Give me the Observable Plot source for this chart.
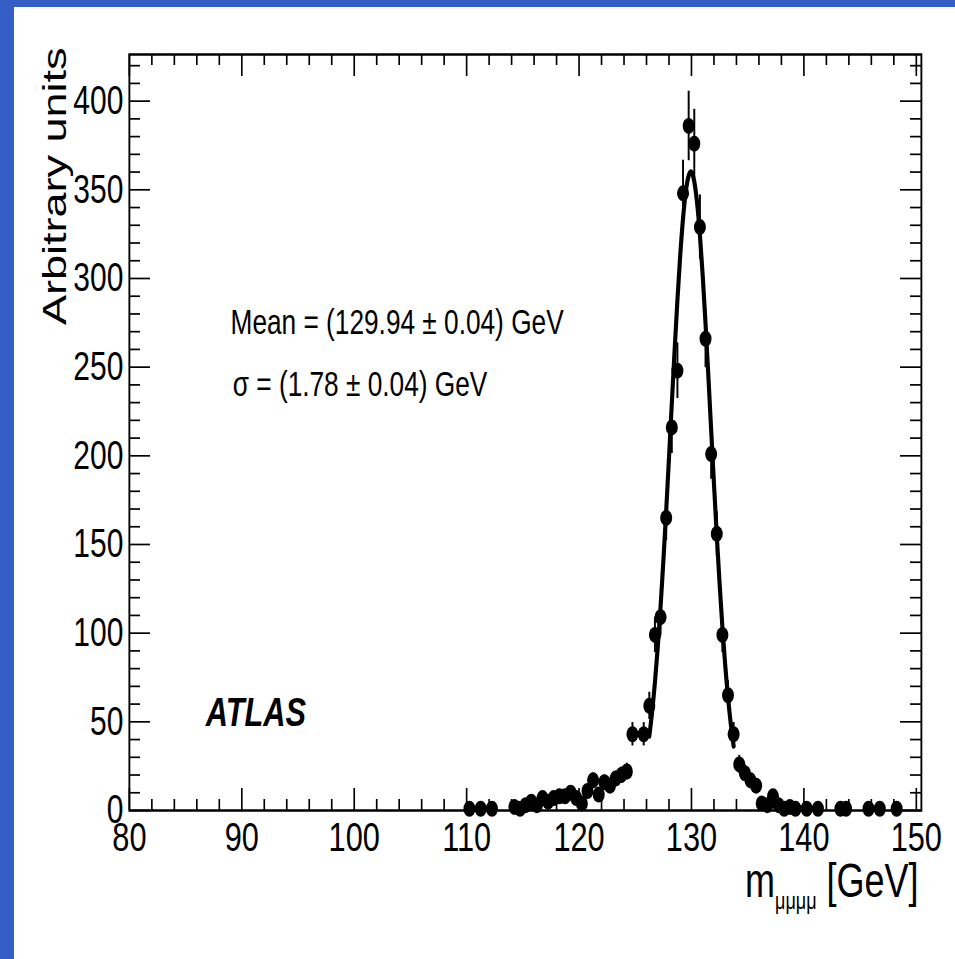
<!DOCTYPE html>
<html><head><meta charset="utf-8">
<script src="https://cdn.jsdelivr.net/npm/d3@7"></script>
<script src="https://cdn.jsdelivr.net/npm/@observablehq/plot@0.6"></script>
<style>
html,body{margin:0;padding:0;background:#fff;width:955px;height:959px;overflow:hidden;}
#bandTop{position:absolute;left:0;top:0;width:955px;height:7px;background:#355fc6;}
#bandLeft{position:absolute;left:0;top:0;width:14px;height:959px;background:#355fc6;}
#chart{position:absolute;left:0;top:0;width:1274px;height:959px;transform:scaleX(0.75);transform-origin:0 0;}
#chart svg{max-width:none !important;}
</style></head><body>
<div id="bandTop"></div><div id="bandLeft"></div><div id="chart"></div>
<script>
// ---- data ----
const massBins = [110.25,111.25,112.25,114.25,114.75,115.25,115.75,116.25,116.75,117.25,117.75,118.25,118.75,119.25,119.75,120.25,120.75,121.25,121.75,122.25,122.75,123.25,123.75,124.25,124.75,125.75,126.25,126.75,127.25,127.75,128.25,128.75,129.25,129.75,130.25,130.75,131.25,131.75,132.25,132.75,133.25,133.75,134.25,134.75,135.25,135.75,136.25,136.75,137.25,137.75,138.25,138.75,139.25,140.25,141.25,143.25,143.75,145.75,146.75,148.25];
const counts   = [1,1,1,2,1,3,5,3,7,5,7,8,8,10,7,4,11,17,9,16,14,18,20,22,43,43,59,99,109,165,216,248,348,386,376,329,266,201,156,99,65,43,26,21,17,14,4,3,8,3,1,2,1,1,1,1,1,1,1,1];
const errors   = [1,1,1,1.4,1,1.7,2.2,1.7,2.6,2.2,2.6,2.8,2.8,3.2,2.6,2,3.3,4.1,3,4,3.7,4.2,4.5,4.7,6.6,6.6,7.7,10,10.4,12.8,14.7,15.7,18.7,19.6,19.4,18.1,16.3,14.2,12.5,10,8.1,6.6,5.1,4.6,4.1,3.7,2,1.7,2.8,1.7,1,1.4,1,1,1,1,1,1,1,1];
const fitMass  = [126.25,126.5,126.75,127,127.25,127.5,127.75,128,128.25,128.5,128.75,129,129.25,129.5,129.75,130,130.25,130.5,130.75,131,131.25,131.5,131.75,132,132.25,132.5,132.75,133,133.25,133.5,133.75];
const fitValue = [42,55.6,72.3,92,114.9,140.7,168.9,198.8,229.4,259.5,287.9,313.1,333.9,349.2,357.9,359.8,354.6,342.6,324.6,301.5,274.6,245.2,214.7,184.3,155.1,128,103.5,82.1,63.9,48.7,36.4];
const xMajor = [80,90,100,110,120,130,140,150];
const xMinor = [82,84,86,88,92,94,96,98,102,104,106,108,112,114,116,118,122,124,126,128,132,134,136,138,142,144,146,148];
const yMajor = [0,50,100,150,200,250,300,350,400];
const yMinor = [10,20,30,40,60,70,80,90,110,120,130,140,160,170,180,190,210,220,230,240,260,270,280,290,310,320,330,340,360,370,380,390,410,420];
const xTitle = "m_{μμμμ} [GeV]";
const yTitle = "Arbitrary units";
const meanText = "Mean = (129.94 ± 0.04) GeV";
const sigmaText = "σ = (1.78 ± 0.04) GeV";
const atlasText = "ATLAS";

const points = massBins.map((m, i) => ({m, n: counts[i], e: errors[i]}));
const fit = fitMass.map((m, i) => ({m, v: fitValue[i]}));

const W = 1274, H = 959, ML = 172, MR = 46, MT = 54, MB = 149;
const IW = W - ML - MR, IH = H - MT - MB;
const SX = 0.75;
const majV = 22, minV = 11;           // vertical tick lengths (px)
const majH = 21 / SX, minH = 11 / SX; // horizontal tick lengths (pre-scale px)

const svg = Plot.plot({
  width: W, height: H,
  marginLeft: ML, marginRight: MR, marginTop: MT, marginBottom: MB,
  x: {domain: [80, 150.45]},
  y: {domain: [0, 426.3]},
  style: {fontFamily: "'Liberation Sans', Arial, Helvetica, sans-serif", background: "transparent", color: "black", overflow: "visible", maxWidth: "none"},
  marks: [
    Plot.tickX(xMajor, {x: d => d, insetTop: IH - majV, stroke: "black", strokeWidth: 2.2}),
    Plot.tickX(xMinor, {x: d => d, insetTop: IH - minV, stroke: "black", strokeWidth: 2.2}),
    Plot.tickX(xMajor, {x: d => d, insetBottom: IH - majV, stroke: "black", strokeWidth: 2.2}),
    Plot.tickX(xMinor, {x: d => d, insetBottom: IH - minV, stroke: "black", strokeWidth: 2.2}),
    Plot.tickY(yMajor, {y: d => d, insetRight: IW - majH, stroke: "black", strokeWidth: 1.7}),
    Plot.tickY(yMinor, {y: d => d, insetRight: IW - minH, stroke: "black", strokeWidth: 1.7}),
    Plot.tickY(yMajor, {y: d => d, insetLeft: IW - majH, stroke: "black", strokeWidth: 1.7}),
    Plot.tickY(yMinor, {y: d => d, insetLeft: IW - minH, stroke: "black", strokeWidth: 1.7}),
    Plot.frame({stroke: "black", strokeWidth: 2.5}),
    Plot.axisX({ticks: xMajor, tickSize: 0, tickPadding: 11, fontSize: 41, label: null, tickFormat: d => String(d)}),
    Plot.axisY({ticks: yMajor, tickSize: 0, tickPadding: 8, fontSize: 40, label: null, tickFormat: d => String(d)}),
    Plot.ruleX(points, {x: "m", y1: d => d.n - d.e, y2: d => d.n + d.e, stroke: "black", strokeWidth: 2.6}),
    Plot.line(fit, {x: "m", y: "v", stroke: "black", strokeWidth: 5.5, curve: "natural"}),
    Plot.dot(points, {x: "m", y: "n", r: 8, fill: "black", stroke: null}),
    Plot.text([meanText], {x: 89.0, y: 275, text: d => d, textAnchor: "start", lineAnchor: "middle", fontSize: 35, fill: "black"}),
    Plot.text([sigmaText], {x: 89.2, y: 240, text: d => d, textAnchor: "start", lineAnchor: "middle", fontSize: 35, fill: "black"}),
    Plot.text([atlasText], {x: 86.8, y: 55.3, text: d => d, textAnchor: "start", lineAnchor: "middle", fontSize: 41, fontWeight: "bold", fontStyle: "italic", fill: "black"}),
    Plot.text([yTitle], {x: 73.4, y: 430.3, text: d => d, rotate: -90, textAnchor: "end", lineAnchor: "middle", fontSize: 45, fill: "black"}),
    Plot.text([xTitle], {x: 150.2, y: -40, text: d => d, textAnchor: "end", lineAnchor: "middle", fontSize: 48, fill: "black"})
  ]
});

// rebuild the x title with a real subscript
d3.select(svg).selectAll("text").filter(function() { return this.textContent === xTitle; }).each(function() {
  const t = d3.select(this);
  t.text(null);
  t.append("tspan").text("m");
  t.append("tspan").attr("font-size", 24).attr("dy", 12).text("μμμμ");
  t.append("tspan").attr("dy", -12).text(" [GeV]");
});

svg.style.maxWidth = "none";
svg.setAttribute("width", W);
svg.setAttribute("height", H);
document.getElementById("chart").appendChild(svg);
</script></body></html>
